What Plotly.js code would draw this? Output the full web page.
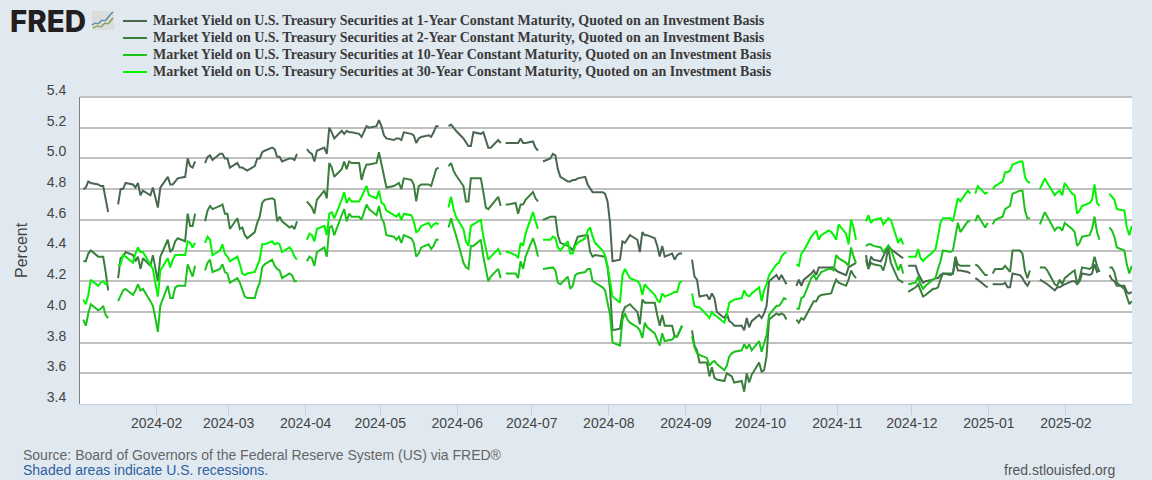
<!DOCTYPE html>
<html>
<head>
<meta charset="utf-8">
<script src="https://cdn.plot.ly/plotly-3.0.1.min.js"></script>
<style>html,body{margin:0;padding:0;background:#e1e9f0}</style>
</head>
<body>
<div id="chart" style="width:1152px;height:480px"></div>
<script>
const seriesNames = [
  "Market Yield on U.S. Treasury Securities at 1-Year Constant Maturity, Quoted on an Investment Basis",
  "Market Yield on U.S. Treasury Securities at 2-Year Constant Maturity, Quoted on an Investment Basis",
  "Market Yield on U.S. Treasury Securities at 10-Year Constant Maturity, Quoted on an Investment Basis",
  "Market Yield on U.S. Treasury Securities at 30-Year Constant Maturity, Quoted on an Investment Basis"
];
const seriesColors = ["#4a6650", "#3a7d3c", "#19c419", "#00f500"];
const tickLabelsX = ["2024-02","2024-03","2024-04","2024-05","2024-06","2024-07","2024-08","2024-09","2024-10","2024-11","2024-12","2025-01","2025-02"];
const tickDatesX = ["2024-01-31 12:00","2024-02-29 12:00","2024-03-31 12:00","2024-04-30 12:00","2024-05-31 12:00","2024-06-30 12:00","2024-07-31 12:00","2024-08-31 12:00","2024-09-30 12:00","2024-10-31 12:00","2024-11-30 12:00","2024-12-31 12:00","2025-01-31 12:00"];
const tickValsY = [3.4,3.6,3.8,4.0,4.2,4.4,4.6,4.8,5.0,5.2,5.4];

// Trading days; the holidays are kept with null values so that the line breaks there.
const dates = [
"2024-01-02","2024-01-03","2024-01-04","2024-01-05","2024-01-08","2024-01-09","2024-01-10","2024-01-11","2024-01-12","2024-01-15",
"2024-01-16","2024-01-17","2024-01-18","2024-01-19","2024-01-22","2024-01-23","2024-01-24","2024-01-25","2024-01-26","2024-01-29","2024-01-30","2024-01-31","2024-02-01","2024-02-02","2024-02-05","2024-02-06","2024-02-07","2024-02-08","2024-02-09","2024-02-12","2024-02-13","2024-02-14","2024-02-15","2024-02-16","2024-02-19",
"2024-02-20","2024-02-21","2024-02-22","2024-02-23","2024-02-26","2024-02-27","2024-02-28","2024-02-29","2024-03-01","2024-03-04","2024-03-05","2024-03-06","2024-03-07","2024-03-08","2024-03-11","2024-03-12","2024-03-13","2024-03-14","2024-03-15","2024-03-18","2024-03-19","2024-03-20","2024-03-21","2024-03-22","2024-03-25","2024-03-26","2024-03-27","2024-03-28","2024-03-29",
"2024-04-01","2024-04-02","2024-04-03","2024-04-04","2024-04-05","2024-04-08","2024-04-09","2024-04-10","2024-04-11","2024-04-12","2024-04-15","2024-04-16","2024-04-17","2024-04-18","2024-04-19","2024-04-22","2024-04-23","2024-04-24","2024-04-25","2024-04-26","2024-04-29","2024-04-30","2024-05-01","2024-05-02","2024-05-03","2024-05-06","2024-05-07","2024-05-08","2024-05-09","2024-05-10","2024-05-13","2024-05-14","2024-05-15","2024-05-16","2024-05-17","2024-05-20","2024-05-21","2024-05-22","2024-05-23","2024-05-24","2024-05-27",
"2024-05-28","2024-05-29","2024-05-30","2024-05-31","2024-06-03","2024-06-04","2024-06-05","2024-06-06","2024-06-07","2024-06-10","2024-06-11","2024-06-12","2024-06-13","2024-06-14","2024-06-17","2024-06-18","2024-06-19",
"2024-06-20","2024-06-21","2024-06-24","2024-06-25","2024-06-26","2024-06-27","2024-06-28","2024-07-01","2024-07-02","2024-07-03","2024-07-04",
"2024-07-05","2024-07-08","2024-07-09","2024-07-10","2024-07-11","2024-07-12","2024-07-15","2024-07-16","2024-07-17","2024-07-18","2024-07-19","2024-07-22","2024-07-23","2024-07-24","2024-07-25","2024-07-26","2024-07-29","2024-07-30","2024-07-31","2024-08-01","2024-08-02","2024-08-05","2024-08-06","2024-08-07","2024-08-08","2024-08-09","2024-08-12","2024-08-13","2024-08-14","2024-08-15","2024-08-16","2024-08-19","2024-08-20","2024-08-21","2024-08-22","2024-08-23","2024-08-26","2024-08-27","2024-08-28","2024-08-29","2024-08-30","2024-09-02",
"2024-09-03","2024-09-04","2024-09-05","2024-09-06","2024-09-09","2024-09-10","2024-09-11","2024-09-12","2024-09-13","2024-09-16","2024-09-17","2024-09-18","2024-09-19","2024-09-20","2024-09-23","2024-09-24","2024-09-25","2024-09-26","2024-09-27","2024-09-30","2024-10-01","2024-10-02","2024-10-03","2024-10-04","2024-10-07","2024-10-08","2024-10-09","2024-10-10","2024-10-11","2024-10-14",
"2024-10-15","2024-10-16","2024-10-17","2024-10-18","2024-10-21","2024-10-22","2024-10-23","2024-10-24","2024-10-25","2024-10-28","2024-10-29","2024-10-30","2024-10-31","2024-11-01","2024-11-04","2024-11-05","2024-11-06","2024-11-07","2024-11-08","2024-11-11",
"2024-11-12","2024-11-13","2024-11-14","2024-11-15","2024-11-18","2024-11-19","2024-11-20","2024-11-21","2024-11-22","2024-11-25","2024-11-26","2024-11-27","2024-11-28",
"2024-11-29","2024-12-02","2024-12-03","2024-12-04","2024-12-05","2024-12-06","2024-12-09","2024-12-10","2024-12-11","2024-12-12","2024-12-13","2024-12-16","2024-12-17","2024-12-18","2024-12-19","2024-12-20","2024-12-23","2024-12-24","2024-12-25",
"2024-12-26","2024-12-27","2024-12-30","2024-12-31","2025-01-01",
"2025-01-02","2025-01-03","2025-01-06","2025-01-07","2025-01-08","2025-01-09","2025-01-10","2025-01-13","2025-01-14","2025-01-15","2025-01-16","2025-01-17","2025-01-20",
"2025-01-21","2025-01-22","2025-01-23","2025-01-24","2025-01-27","2025-01-28","2025-01-29","2025-01-30","2025-01-31","2025-02-03","2025-02-04","2025-02-05","2025-02-06","2025-02-07","2025-02-10","2025-02-11","2025-02-12","2025-02-13","2025-02-14","2025-02-17",
"2025-02-18","2025-02-19","2025-02-20","2025-02-21","2025-02-24","2025-02-25","2025-02-26","2025-02-27"
];

const yield1y = [
4.80,4.81,4.85,4.84,4.83,4.82,4.82,4.72,4.65,null,
4.70,4.80,4.80,4.84,4.83,4.81,4.84,4.76,4.79,4.76,4.81,4.74,4.68,4.81,4.88,4.83,4.83,4.85,4.87,4.88,5.00,4.95,4.94,4.98,null,
4.97,5.01,5.02,4.99,5.03,5.03,5.00,5.00,4.94,4.97,4.94,4.94,4.93,4.92,4.95,5.00,5.00,5.04,5.05,5.07,5.06,5.01,5.01,4.98,5.00,5.00,4.99,5.03,null,
5.06,5.04,5.03,4.98,5.05,5.07,5.03,5.20,5.17,5.13,5.18,5.16,5.18,5.17,5.17,5.16,5.14,5.18,5.21,5.20,5.21,5.25,5.21,5.15,5.13,5.12,5.13,5.13,5.12,5.17,5.16,5.15,5.10,5.13,5.14,5.15,5.14,5.17,5.21,5.21,null,
5.21,5.22,5.20,5.18,5.13,5.10,5.08,5.08,5.17,5.16,5.17,5.12,5.07,5.07,5.12,5.10,null,
5.10,5.10,5.10,5.10,5.13,5.10,5.10,5.11,5.07,5.05,null,
4.98,5.00,5.03,5.02,4.93,4.88,4.85,4.85,4.86,4.86,4.87,4.88,4.83,4.80,4.78,4.78,4.78,4.77,4.72,4.58,4.33,4.34,4.46,4.45,4.48,4.50,4.47,4.39,4.52,4.50,4.50,4.48,4.43,4.36,4.43,4.36,4.38,4.34,4.37,4.38,4.38,null,
4.34,4.23,4.21,4.10,4.11,4.08,4.12,4.09,4.00,3.96,3.99,3.94,3.93,3.91,3.91,3.88,3.96,3.90,3.94,3.98,3.96,3.99,4.04,4.20,4.24,4.21,4.24,4.21,4.18,null,
4.17,4.21,4.17,4.21,4.25,4.27,4.24,4.29,4.29,4.29,4.29,4.29,4.27,4.26,4.24,4.29,4.30,4.31,4.32,null,
4.37,4.28,4.36,4.34,4.33,4.36,4.40,4.43,4.41,4.37,4.36,4.35,null,
4.30,4.30,4.25,4.22,4.19,4.20,4.21,4.22,4.22,4.24,4.25,4.24,4.25,4.33,4.27,4.27,4.26,4.25,null,
4.22,4.21,4.17,4.16,null,
4.18,4.18,4.18,4.19,4.16,4.16,4.25,4.24,4.22,4.19,4.17,4.20,null,
4.21,4.20,4.19,4.18,4.14,4.16,4.16,4.17,4.18,4.20,4.20,4.18,4.20,4.25,4.24,4.25,4.31,4.26,4.27,null,
4.24,4.21,4.20,4.17,4.17,4.13,4.12,4.13
];
const yield2y = [
4.33,4.33,4.38,4.40,4.36,4.36,4.36,4.26,4.14,null,
4.22,4.35,4.36,4.39,4.37,4.33,4.36,4.28,4.35,4.30,4.37,4.28,4.20,4.36,4.47,4.39,4.41,4.46,4.48,4.46,4.64,4.56,4.56,4.64,null,
4.59,4.66,4.69,4.67,4.69,4.70,4.64,4.64,4.54,4.61,4.54,4.55,4.50,4.48,4.52,4.58,4.62,4.71,4.73,4.74,4.73,4.59,4.62,4.59,4.55,4.56,4.54,4.59,null,
4.72,4.70,4.68,4.64,4.73,4.79,4.74,4.97,4.94,4.88,4.93,4.98,4.93,4.98,4.97,4.97,4.86,4.92,4.96,4.96,4.97,5.04,4.96,4.88,4.81,4.82,4.83,4.84,4.80,4.87,4.86,4.83,4.72,4.82,4.83,4.83,4.82,4.87,4.93,4.94,null,
4.95,4.97,4.92,4.89,4.82,4.72,4.72,4.87,4.87,4.87,4.78,4.68,4.67,4.69,4.75,4.69,null,
4.70,4.70,4.71,4.64,4.70,4.70,4.73,4.78,4.74,4.72,null,
4.60,4.62,4.62,4.62,4.50,4.45,4.43,4.42,4.40,4.44,4.49,4.50,4.50,4.39,4.36,4.37,4.36,4.36,4.29,4.15,3.88,3.89,3.99,4.03,4.04,4.05,4.00,3.92,4.08,4.06,4.06,4.06,3.98,3.91,3.98,3.91,3.91,3.84,3.84,3.87,3.91,null,
3.88,3.78,3.75,3.67,3.67,3.58,3.64,3.57,3.56,3.55,3.60,3.59,3.58,3.54,3.55,3.48,3.60,3.54,3.59,3.67,3.61,3.62,3.71,3.95,3.99,3.98,3.99,3.98,3.95,null,
3.95,3.93,3.96,3.95,4.04,4.07,4.07,4.10,4.11,4.12,4.12,4.17,4.21,4.19,4.17,4.21,4.27,4.24,4.22,null,
4.34,4.28,4.32,4.31,4.30,4.27,4.33,4.42,4.32,4.21,4.20,4.19,null,
4.13,4.16,4.18,4.14,4.10,4.11,4.15,4.15,4.16,4.21,4.25,4.25,4.25,4.36,4.31,4.30,4.30,4.30,null,
4.31,4.30,4.24,4.24,null,
4.25,4.28,4.28,4.30,4.28,4.26,4.40,4.40,4.38,4.27,4.22,4.27,null,
4.29,4.29,4.29,4.27,4.18,4.17,4.21,4.18,4.22,4.26,4.27,4.18,4.22,4.29,4.28,4.29,4.36,4.30,4.26,null,
4.29,4.29,4.26,4.19,4.15,4.10,4.05,4.07
];
const yield10y = [
3.95,3.91,3.99,4.05,4.01,4.02,4.04,3.98,3.96,null,
4.07,4.10,4.14,4.15,4.11,4.14,4.18,4.14,4.15,4.07,4.04,3.96,3.87,4.04,4.17,4.09,4.09,4.16,4.17,4.17,4.31,4.27,4.23,4.30,null,
4.27,4.32,4.34,4.26,4.28,4.31,4.26,4.25,4.19,4.22,4.19,4.15,4.10,4.09,4.09,4.15,4.19,4.29,4.31,4.34,4.30,4.28,4.27,4.22,4.25,4.24,4.20,4.20,null,
4.33,4.36,4.35,4.30,4.39,4.42,4.36,4.55,4.56,4.50,4.63,4.67,4.59,4.64,4.62,4.62,4.60,4.65,4.70,4.67,4.63,4.69,4.61,4.58,4.50,4.49,4.47,4.49,4.45,4.50,4.48,4.45,4.36,4.38,4.42,4.44,4.41,4.43,4.47,4.47,null,
4.55,4.61,4.55,4.50,4.32,4.29,4.28,4.43,4.43,4.47,4.36,4.28,4.20,4.23,4.28,4.22,null,
4.25,4.25,4.25,4.22,4.33,4.28,4.36,4.48,4.43,4.36,null,
4.28,4.29,4.29,4.27,4.19,4.18,4.23,4.15,4.17,4.24,4.25,4.26,4.28,4.28,4.20,4.19,4.16,4.14,4.06,3.98,3.80,3.78,3.95,3.99,3.95,3.93,3.90,3.88,3.83,3.93,3.90,3.86,3.82,3.78,3.86,3.81,3.82,3.84,3.84,3.87,3.91,null,
3.84,3.77,3.73,3.72,3.70,3.65,3.67,3.68,3.66,3.62,3.65,3.71,3.73,3.74,3.75,3.79,3.76,3.79,3.75,3.81,3.74,3.79,3.85,3.98,4.04,4.04,4.06,4.09,4.08,null,
4.02,4.02,4.09,4.10,4.22,4.24,4.21,4.24,4.26,4.28,4.28,4.27,4.37,4.35,4.32,4.30,4.42,4.36,4.32,null,
4.43,4.44,4.44,4.43,4.42,4.39,4.41,4.43,4.41,4.27,4.31,4.25,null,
4.18,4.19,4.23,4.18,4.15,4.17,4.21,4.22,4.28,4.33,4.40,4.39,4.40,4.50,4.58,4.52,4.59,4.59,null,
4.59,4.63,4.55,4.58,null,
4.57,4.60,4.62,4.67,4.68,4.69,4.77,4.79,4.79,4.66,4.61,4.61,null,
4.57,4.61,4.65,4.62,4.53,4.55,4.55,4.53,4.58,4.54,4.52,4.43,4.45,4.49,4.50,4.54,4.62,4.52,4.47,null,
4.55,4.53,4.49,4.42,4.40,4.31,4.25,4.30
];
const yield30y = [
4.08,4.05,4.11,4.21,4.17,4.19,4.20,4.18,4.19,null,
4.30,4.31,4.37,4.36,4.32,4.38,4.42,4.39,4.39,4.30,4.28,4.19,4.10,4.27,4.35,4.29,4.34,4.37,4.37,4.37,4.46,4.45,4.42,4.45,null,
4.45,4.49,4.47,4.37,4.40,4.44,4.38,4.36,4.33,4.36,4.31,4.25,4.24,4.25,4.26,4.30,4.34,4.44,4.44,4.46,4.44,4.45,4.44,4.39,4.42,4.40,4.36,4.34,null,
4.47,4.51,4.50,4.46,4.54,4.56,4.50,4.64,4.65,4.61,4.73,4.78,4.71,4.74,4.72,4.72,4.75,4.79,4.82,4.76,4.74,4.79,4.71,4.70,4.66,4.63,4.62,4.64,4.60,4.64,4.63,4.59,4.52,4.53,4.56,4.58,4.55,4.57,4.58,4.57,null,
4.68,4.75,4.67,4.62,4.54,4.46,4.43,4.56,4.57,4.60,4.49,4.41,4.34,4.36,4.41,4.37,null,
4.39,4.39,4.37,4.35,4.45,4.43,4.51,4.65,4.59,4.54,null,
4.47,4.47,4.49,4.48,4.42,4.40,4.46,4.38,4.38,4.43,4.45,4.48,4.53,4.55,4.49,4.45,4.40,4.37,4.30,4.19,4.10,4.06,4.24,4.28,4.25,4.22,4.20,4.18,4.11,4.18,4.16,4.11,4.08,4.06,4.12,4.10,4.12,4.13,4.13,4.19,4.20,null,
4.12,4.04,4.03,4.03,3.98,3.96,4.00,3.98,3.97,3.93,3.98,4.06,4.07,4.08,4.09,4.14,4.11,4.10,4.12,4.16,4.07,4.14,4.18,4.24,4.31,4.32,4.36,4.38,4.39,null,
4.31,4.30,4.38,4.40,4.49,4.51,4.53,4.47,4.50,4.53,4.52,4.50,4.47,4.57,4.51,4.44,4.60,4.55,4.47,null,
4.59,4.63,4.58,4.60,4.61,4.57,4.59,4.61,4.60,4.45,4.48,4.44,null,
4.36,4.36,4.41,4.35,4.33,4.35,4.39,4.41,4.49,4.58,4.61,4.61,4.59,4.67,4.74,4.72,4.79,4.77,null,
4.77,4.82,4.77,4.78,null,
4.80,4.82,4.85,4.91,4.91,4.92,4.96,4.98,4.98,4.88,4.85,4.84,null,
4.80,4.84,4.87,4.84,4.76,4.78,4.79,4.76,4.84,4.77,4.76,4.64,4.66,4.69,4.71,4.73,4.83,4.71,4.69,null,
4.77,4.75,4.73,4.67,4.66,4.55,4.50,4.56
];

const allYields = [yield1y, yield2y, yield10y, yield30y];
allYields.forEach(a => { if (a.length !== dates.length) throw new Error("length " + a.length + " vs " + dates.length); });

const traces = allYields.map((y, i) => ({
  x: dates, y: y, type: "scatter", mode: "lines", name: seriesNames[i],
  connectgaps: false,
  line: {color: seriesColors[i], width: 2, shape: "linear"},
  hoverinfo: "x+y"
}));

// Page-pixel helpers for the furniture placed around the plot area.
const W = 1152, H = 480, L = 80, R = 20, T = 97, B = 76;
const px = x => (x - L) / (W - L - R);
const py = y => 1 - (y - T) / (H - T - B);
const text = (t, x, y, opts) => Object.assign({
  text: t, xref: "paper", yref: "paper", x: px(x), y: py(y), showarrow: false,
  xanchor: "left", yanchor: "middle", borderpad: 0
}, opts);
const serif = {family: "Liberation Serif", size: 14, color: "#3a3a3a"};
const sans = (size, color) => ({family: "Liberation Sans", size: size, color: color});

const legendRows = [21, 38, 55, 72];
const annotations = seriesNames.map((n, i) => text("<b>" + n + "</b>", 151.5, legendRows[i], {font: serif}));
annotations.push(text("FRED", 9, 21, {font: {family: "Inter", size: 29.5, weight: 800, color: "#231f20"}}));
annotations.push(text("Source: Board of Governors of the Federal Reserve System (US) via FRED®", 22, 455, {font: sans(14, "#666666")}));
annotations.push(text("Shaded areas indicate U.S. recessions.", 22, 470, {font: sans(14, "#2f5f9f")}));
annotations.push(text("fred.stlouisfed.org", 1116, 470, {font: sans(14, "#555555"), xanchor: "right"}));
annotations.push(text("Percent", 21, 250, {font: sans(16, "#444444"), textangle: -90, xanchor: "center"}));

const line = (x0, y0, x1, y1, color, w) => ({type: "line", xref: "paper", yref: "paper",
  x0: px(x0), y0: py(y0), x1: px(x1), y1: py(y1), line: {color: color, width: w}});
const shapes = legendRows.map((y, i) => line(123, y, 147, y, seriesColors[i], 2));
shapes.push(line(80, T, 1132, T, "#c0c0c0", 2));
shapes.push({type: "rect", xref: "paper", yref: "paper", x0: px(92), x1: px(114), y0: py(11), y1: py(30),
  fillcolor: "#dcdcdc", line: {width: 0}});
[[92,25,95,23],[95,23,98,24],[98,24,102,20],[102,20,105,21],[105,21,110,15],[110,15,113,12]].forEach(s =>
  shapes.push(line(s[0], s[1], s[2], s[3], "#4a86a8", 1.2)));
[[93,28,97,26],[97,26,101,27],[101,27,105,23],[105,23,108,24],[108,24,113,18]].forEach(s =>
  shapes.push(line(s[0], s[1], s[2], s[3], "#7f9f3a", 1.2)));

const layout = {
  width: W, height: H, autosize: false,
  margin: {l: L, r: R, t: T, b: B, pad: 0},
  paper_bgcolor: "#e1e9f0", plot_bgcolor: "#ffffff",
  showlegend: false,
  font: {family: "Liberation Sans", size: 14, color: "#444444"},
  xaxis: {
    type: "date", range: ["2023-12-31 16:00", "2025-02-27 02:00"],
    tickmode: "array", tickvals: tickDatesX, ticktext: tickLabelsX,
    ticks: "outside", ticklen: 10, tickwidth: 1, tickcolor: "#c0d0e0",
    showgrid: false, showline: true, linecolor: "#c0d0e0", linewidth: 1,
    zeroline: false, ticklabelstandoff: -4, tickfont: sans(14, "#444444")
  },
  yaxis: {
    type: "linear", range: [3.4, 5.4],
    tickmode: "array", tickvals: tickValsY, ticktext: tickValsY.map(v => v.toFixed(1)),
    ticks: "", showgrid: true, gridcolor: "#c0c0c0", gridwidth: 2,
    showline: true, linecolor: "#808080", linewidth: 1, zeroline: false,
    ticklabelshift: -7, ticklabelstandoff: 10, tickfont: sans(14, "#444444")
  },
  annotations: annotations, shapes: shapes
};
Plotly.newPlot("chart", traces, layout, {displayModeBar: false, responsive: false});
</script>
</body>
</html>
